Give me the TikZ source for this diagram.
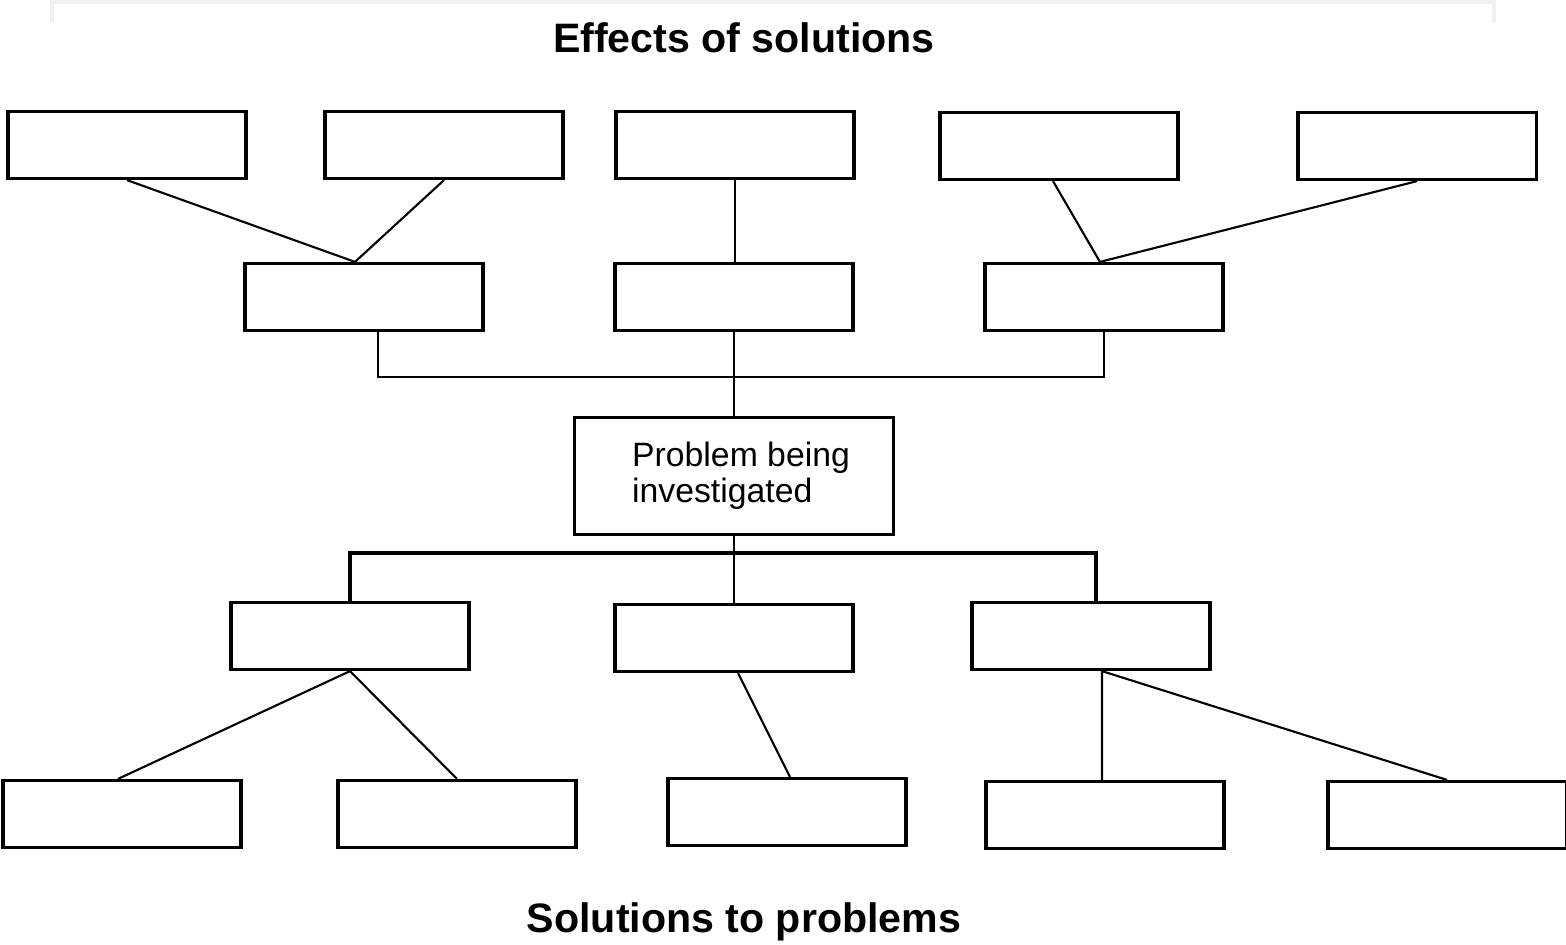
\documentclass[tikz,border=0pt]{standalone}
\usepackage{fontspec}
\setmainfont{Liberation Sans}
\usetikzlibrary{positioning,calc}

\begin{document}
\begin{tikzpicture}[x=0.01cm,y=-0.01cm,
  blank/.style={draw,line width=0.9pt,minimum width=2.38cm,minimum height=0.67cm,inner sep=0pt},
  link/.style={line width=0.6pt},
  heading/.style={font=\bfseries\fontsize{11.7}{14}\selectfont}]
  \useasboundingbox (0,0) rectangle (1566,944);
  \draw[gray!12,line width=1.2pt] (52,22) |- (1494,2) -- (1494,22);

  \node[heading] (effects) at (744,38) {Effects of solutions};
  \node[heading] (solutions) at (744,922) {Solutions to problems};

  % boxes, effects above and solutions below
  \foreach \n/\x/\y in {
    t1/127/145, t2/444/145, t3/735/145, t4/1059/146, t5/1417/146,
    m1/364/297, m2/734/297, m3/1104/297,
    s1/350/636, s2/734/638, s3/1091/636,
    b1/122/814, b2/457/814, b3/787/812, b4/1105/815, b5/1447/815}{
    \node[blank] (\n) at (\x,\y) {};
  }
  \node[blank,minimum width=3.18cm,minimum height=1.17cm,align=left,
        font=\fontsize{9.6}{10.2}\selectfont] (problem) at (734,476)
        {\hspace*{4pt}Problem being\\\hspace*{4pt}investigated};

  % upper tree
  \draw[link] (t1.south) -- ($(m1.north)+(-9,0)$) -- (t2.south);
  \draw[link] (t3.south) -- (t3.south |- m2.north);
  \draw[link] ($(t4.south)+(-6,0)$) -- ($(m3.north)+(-4,0)$) -- (t5.south);
  \coordinate (topbus) at (734,377);
  \draw[link] ($(m1.south)+(14,0)$) |- (topbus) -| (m3.south);
  \draw[link] (m2.south) -- (problem.north);

  % lower tree
  \coordinate (lowbus) at (734,553);
  \draw[link] (problem.south) -- (s2.north);
  \draw[line width=0.9pt] (s1.north) |- (lowbus) -| ($(s3.north)+(5,0)$);
  \draw[link] ($(b1.north)+(-4,0)$) -- (s1.south) -- (b2.north);
  \draw[link] ($(s2.south)+(4,0)$) -- ($(b3.north)+(3,0)$);
  \draw[link] ($(b4.north)+(-3,0)$) -- ($(s3.south)+(11,0)$) -- (b5.north);
\end{tikzpicture}
\end{document}
